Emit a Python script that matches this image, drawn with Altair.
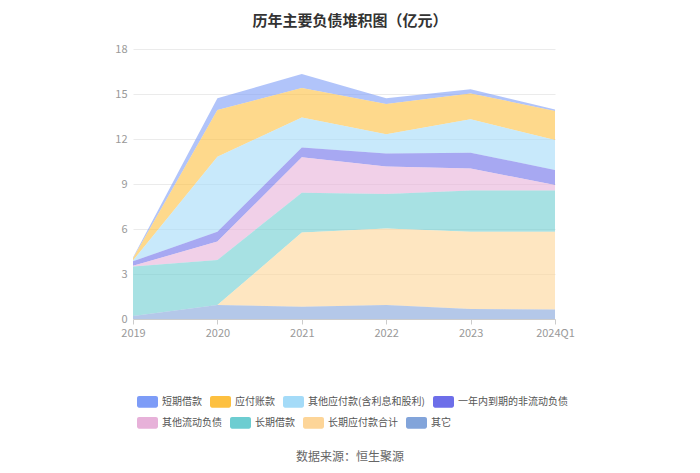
import altair as alt
import pandas as pd

years = ["2019", "2020", "2021", "2022", "2023", "2024Q1"]

series_names = ["短期借款", "应付账款", "其他应付款(含利息和股利)", "一年内到期的非流动负债",
                "其他流动负债", "长期借款", "长期应付款合计", "其它"]
colors = ["#7d9cf7", "#fdc040", "#a4dbf8", "#6d6ee9", "#e7b1d9", "#6dcdd1", "#fdd598", "#82a4da"]

short_loan = [0.05, 0.78, 0.93, 0.38, 0.27, 0.10]
accounts_payable = [0.15, 3.11, 1.96, 2.02, 1.73, 1.94]
other_payable = [0.05, 5.00, 2.00, 1.27, 2.22, 2.00]
current_noncurrent = [0.30, 0.66, 0.66, 0.88, 1.05, 1.00]
other_current = [0.05, 1.23, 2.36, 1.83, 1.48, 0.37]
long_loan = [3.30, 3.00, 2.66, 2.29, 2.74, 2.74]
long_payable = [0.00, 0.00, 4.94, 5.11, 5.15, 5.18]
others = [0.20, 0.93, 0.82, 0.93, 0.67, 0.64]

values = [short_loan, accounts_payable, other_payable, current_noncurrent,
          other_current, long_loan, long_payable, others]

rows = []
for i, (name, vals) in enumerate(zip(series_names, values)):
    for y, v in zip(years, vals):
        rows.append({"year": y, "series": name, "value": v, "order": len(series_names) - i})
df = pd.DataFrame(rows)

FONT = "Noto Sans CJK SC"
legend_path = ("M-0.8,-0.55 H0.8 A0.2,0.2 0 0 1 1,-0.35 V0.35 A0.2,0.2 0 0 1 0.8,0.55 "
               "H-0.8 A0.2,0.2 0 0 1 -1,0.35 V-0.35 A0.2,0.2 0 0 1 -0.8,-0.55 Z")

x_enc = alt.X("year:O", sort=years, scale=alt.Scale(padding=0),
              axis=alt.Axis(title=None, labelAngle=0, labelColor="#999999", labelFontSize=11,
                            labelFont=FONT, domainColor="#cccccc", tickColor="#cccccc",
                            tickSize=5, labelPadding=3, grid=False))
y_scale = alt.Scale(domain=[0, 18])

area = alt.Chart(df).mark_area(fillOpacity=0.6, line=False).encode(
    x=x_enc,
    y=alt.Y("sum(value):Q", stack="zero", scale=y_scale,
            axis=alt.Axis(title=None, values=[0, 3, 6, 9, 12, 15, 18], domain=False, ticks=False,
                          labelColor="#999999", labelFontSize=11, labelFont=FONT, labelPadding=6,
                          gridColor="#ebebeb")),
    color=alt.Color("series:N", scale=alt.Scale(domain=series_names, range=colors), legend=None),
    order=alt.Order("order:Q", sort="ascending"),
)


def legend_layer(names, cols, ly):
    sub = df[df["series"].isin(names)]
    return alt.Chart(sub).mark_point(filled=True, opacity=0).encode(
        x=alt.X("year:O", sort=years),
        y=alt.Y("value:Q", scale=y_scale),
        color=alt.Color("series:N", scale=alt.Scale(domain=names, range=cols),
                        legend=alt.Legend(title=None, orient="none", direction="horizontal",
                                          legendX=4, legendY=ly, padding=0,
                                          symbolType=legend_path, symbolSize=441,
                                          symbolOpacity=1, symbolStrokeWidth=0,
                                          labelFontSize=10, labelFont=FONT, labelColor="#555555",
                                          labelOffset=4, columnPadding=8)),
    )


leg1 = legend_layer(series_names[:4], colors[:4], 342)
leg2 = legend_layer(series_names[4:], colors[4:], 363)

source = alt.Chart(pd.DataFrame({"t": ["数据来源：恒生聚源"]})).mark_text(
    font=FONT, fontSize=12, color="#666666", align="center", baseline="middle"
).encode(text="t:N", x=alt.value(217), y=alt.value(408))

chart = alt.layer(area, leg1, leg2, source).resolve_scale(color="independent").properties(
    width=422, height=270,
    title=alt.TitleParams("历年主要负债堆积图（亿元）", font=FONT, fontSize=15, fontWeight="bold",
                          color="#333333", anchor="middle", dx=6, dy=-10),
    autosize=alt.AutoSizeParams(type="none"),
    padding={"left": 125, "top": 41, "right": 137, "bottom": 146},
).configure_view(stroke=None)

chart.save("out.html", embed_options={"renderer": "svg", "actions": False})
